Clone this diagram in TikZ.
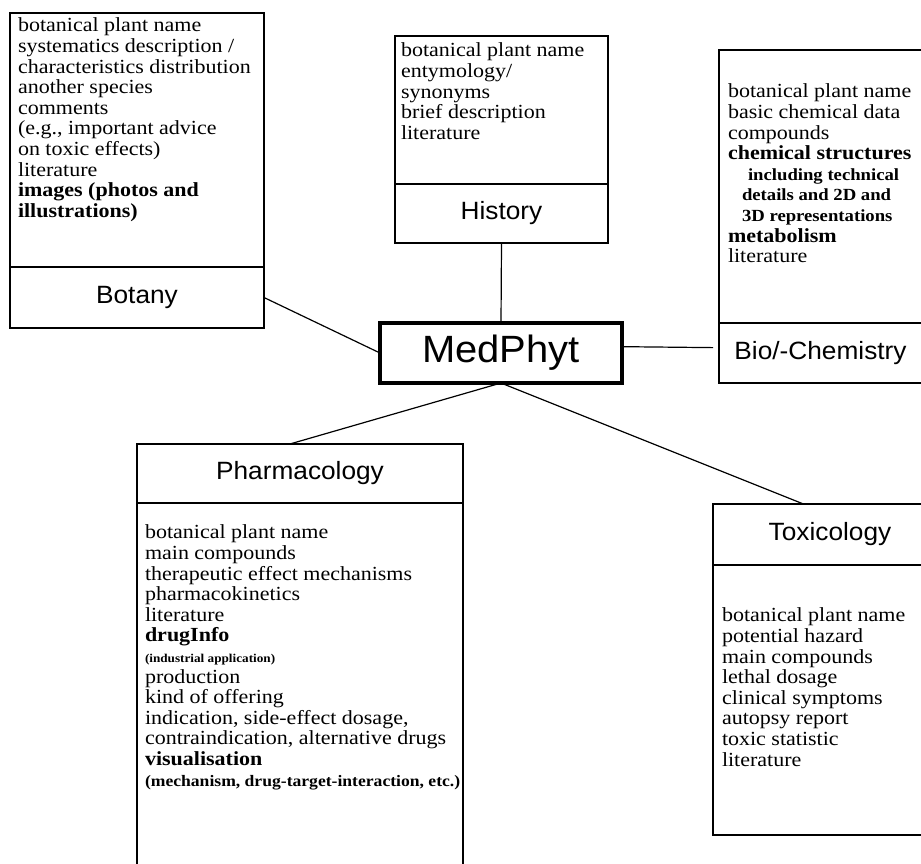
\documentclass[tikz,border=0pt]{standalone}
\usepackage{fontspec}
\setmainfont{Liberation Serif}[FakeStretch=1.1]
\newfontfamily\headfont{Liberation Sans}[FakeStretch=1.05]
\usetikzlibrary{positioning}

\newcommand{\subbf}[2]{{\fontsize{#1}{20.6}\selectfont\bfseries #2}}

\begin{document}
\begin{tikzpicture}[x=1pt,y=-1pt,
		part/.style={draw,line width=1.2pt,inner sep=0pt,outer sep=0pt},
		head/.style={part,font=\headfont\fontsize{25}{30}\selectfont},
		items/.style={inner sep=0pt,outer sep=0pt,align=left,anchor=north west,font=\fontsize{20}{20.6}\selectfont},
		hub/.style={draw,line width=4pt,inner sep=0pt,outer sep=0pt,minimum width=242pt,minimum height=60pt,font=\headfont\fontsize{38}{44}\selectfont},
		link/.style={line width=1.2pt}]
		\useasboundingbox (0,0) rectangle (921,863);
		\clip (0,0) rectangle (921,863);

		% Botany
		\draw (10,13) node [part,anchor=north west,minimum width=254pt,minimum height=254pt] (botlist){};
		\node [head,minimum width=254pt,minimum height=61pt,below=0pt of botlist] (bothead){Botany};
		\node [items,below right=5pt and 8pt of botlist.north west] (botitems){botanical plant name\\
			systematics description /\\
			characteristics distribution\\
			another species\\
			comments\\
			(e.g., important advice\\
			on toxic effects)\\
			literature\\
			\textbf{images (photos and}\\
			\textbf{illustrations)}};

		% History
		\draw (395,36) node [part,anchor=north west,minimum width=213pt,minimum height=148pt] (histlist){};
		\node [head,minimum width=213pt,minimum height=59pt,below=0pt of histlist] (histhead){History};
		\node [items,below right=7pt and 6pt of histlist.north west] (histitems){botanical plant name\\
			entymology/\\
			synonyms\\
			brief description\\
			literature};

		% Bio/-Chemistry
		\draw (719,50) node [part,anchor=north west,minimum width=203pt,minimum height=273pt] (biolist){};
		\node [head,minimum width=203pt,minimum height=60pt,below=0pt of biolist] (biohead){Bio/-Chemistry};
		\node [items,below right=34pt and 9pt of biolist.north west] (bioitems){botanical plant name\\
			basic chemical data\\
			compounds\\
			\textbf{chemical structures}\\
			\hspace*{20pt}\subbf{17}{including technical}\\
			\hspace*{14pt}\subbf{17}{details and 2D and}\\
			\hspace*{14pt}\subbf{17}{3D representations}\\
			\textbf{metabolism}\\
			literature};

		\draw (501,353) node [hub] (medphyt){MedPhyt};

		% Pharmacology
		\draw (137,444) node [head,anchor=north west,minimum width=326pt,minimum height=59pt] (pharmhead){Pharmacology};
		\node [part,minimum width=326pt,minimum height=367pt,below=0pt of pharmhead] (pharmlist){};
		\node [items,below right=22pt and 8pt of pharmlist.north west] (pharmitems){botanical plant name\\
			main compounds\\
			therapeutic effect mechanisms\\
			pharmacokinetics\\
			literature\\
			\textbf{drugInfo}\\
			\subbf{12}{(industrial application)}\\
			production\\
			kind of offering\\
			indication, side-effect dosage,\\
			contraindication, alternative drugs\\
			\textbf{visualisation}\\
			\subbf{16}{(mechanism, drug-target-interaction, etc.)}};

		% Toxicology
		\draw (713,504) node [head,anchor=north west,minimum width=234pt,minimum height=61pt] (toxhead){Toxicology};
		\node [part,minimum width=234pt,minimum height=270pt,below=0pt of toxhead] (toxlist){};
		\node [items,below right=43pt and 9pt of toxlist.north west] (toxitems){botanical plant name\\
			potential hazard\\
			main compounds\\
			lethal dosage\\
			clinical symptoms\\
			autopsy report\\
			toxic statistic\\
			literature};

		\draw[link]
		(medphyt.west) edge (bothead.east)
		(medphyt.north) edge (histhead.south)
		(medphyt.3) edge[shorten >=6pt] (biohead.177)
		(medphyt.south) edge (pharmhead.109)
			edge (toxhead.131);
	\end{tikzpicture}
\end{document}
